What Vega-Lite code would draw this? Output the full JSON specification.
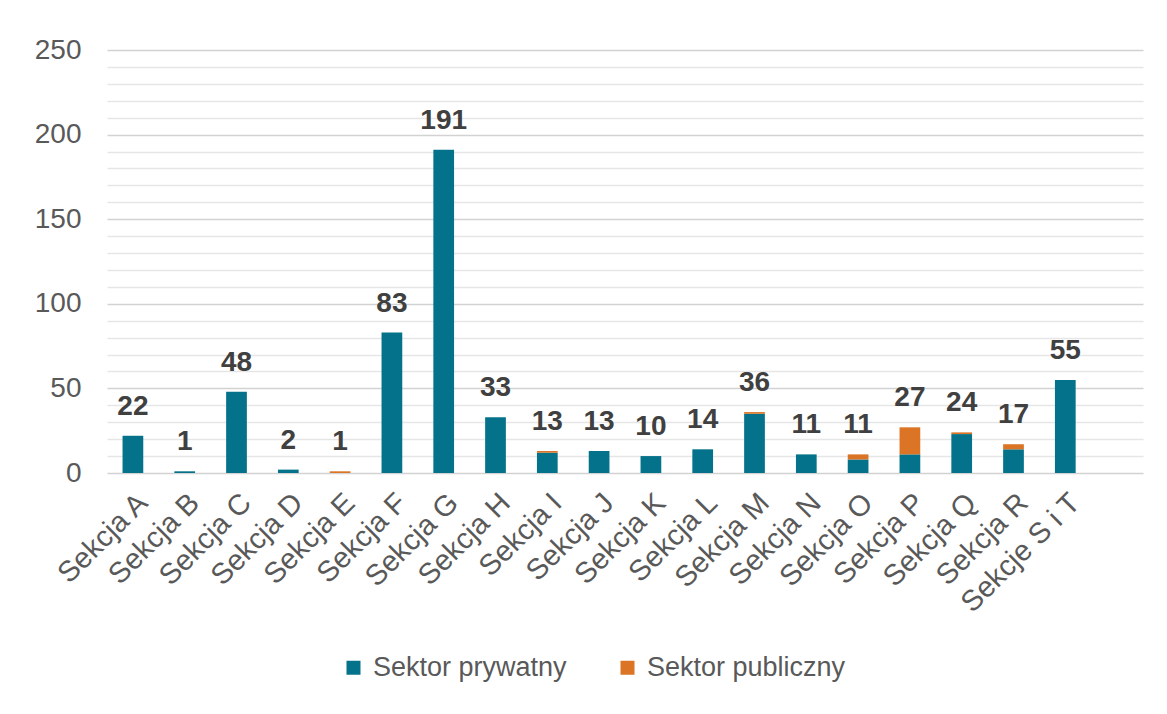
{
  "$schema": "https://vega.github.io/schema/vega-lite/v6.json",
  "width": 1036,
  "height": 423,
  "autosize": {"type": "none"},
  "padding": {"left": 107, "top": 50, "right": 24, "bottom": 241},
  "background": "white",
  "config": {
    "view": {"stroke": null},
    "font": "Liberation Sans"
  },
  "data": {
    "values": [
      {"sekcja": "Sekcja A", "sektor": "Sektor prywatny", "liczba": 22},
      {"sekcja": "Sekcja A", "sektor": "Sektor publiczny", "liczba": 0},
      {"sekcja": "Sekcja B", "sektor": "Sektor prywatny", "liczba": 1},
      {"sekcja": "Sekcja B", "sektor": "Sektor publiczny", "liczba": 0},
      {"sekcja": "Sekcja C", "sektor": "Sektor prywatny", "liczba": 48},
      {"sekcja": "Sekcja C", "sektor": "Sektor publiczny", "liczba": 0},
      {"sekcja": "Sekcja D", "sektor": "Sektor prywatny", "liczba": 2},
      {"sekcja": "Sekcja D", "sektor": "Sektor publiczny", "liczba": 0},
      {"sekcja": "Sekcja E", "sektor": "Sektor prywatny", "liczba": 0},
      {"sekcja": "Sekcja E", "sektor": "Sektor publiczny", "liczba": 1},
      {"sekcja": "Sekcja F", "sektor": "Sektor prywatny", "liczba": 83},
      {"sekcja": "Sekcja F", "sektor": "Sektor publiczny", "liczba": 0},
      {"sekcja": "Sekcja G", "sektor": "Sektor prywatny", "liczba": 191},
      {"sekcja": "Sekcja G", "sektor": "Sektor publiczny", "liczba": 0},
      {"sekcja": "Sekcja H", "sektor": "Sektor prywatny", "liczba": 33},
      {"sekcja": "Sekcja H", "sektor": "Sektor publiczny", "liczba": 0},
      {"sekcja": "Sekcja I", "sektor": "Sektor prywatny", "liczba": 12},
      {"sekcja": "Sekcja I", "sektor": "Sektor publiczny", "liczba": 1},
      {"sekcja": "Sekcja J", "sektor": "Sektor prywatny", "liczba": 13},
      {"sekcja": "Sekcja J", "sektor": "Sektor publiczny", "liczba": 0},
      {"sekcja": "Sekcja K", "sektor": "Sektor prywatny", "liczba": 10},
      {"sekcja": "Sekcja K", "sektor": "Sektor publiczny", "liczba": 0},
      {"sekcja": "Sekcja L", "sektor": "Sektor prywatny", "liczba": 14},
      {"sekcja": "Sekcja L", "sektor": "Sektor publiczny", "liczba": 0},
      {"sekcja": "Sekcja M", "sektor": "Sektor prywatny", "liczba": 35},
      {"sekcja": "Sekcja M", "sektor": "Sektor publiczny", "liczba": 1},
      {"sekcja": "Sekcja N", "sektor": "Sektor prywatny", "liczba": 11},
      {"sekcja": "Sekcja N", "sektor": "Sektor publiczny", "liczba": 0},
      {"sekcja": "Sekcja O", "sektor": "Sektor prywatny", "liczba": 8},
      {"sekcja": "Sekcja O", "sektor": "Sektor publiczny", "liczba": 3},
      {"sekcja": "Sekcja P", "sektor": "Sektor prywatny", "liczba": 11},
      {"sekcja": "Sekcja P", "sektor": "Sektor publiczny", "liczba": 16},
      {"sekcja": "Sekcja Q", "sektor": "Sektor prywatny", "liczba": 23},
      {"sekcja": "Sekcja Q", "sektor": "Sektor publiczny", "liczba": 1},
      {"sekcja": "Sekcja R", "sektor": "Sektor prywatny", "liczba": 14},
      {"sekcja": "Sekcja R", "sektor": "Sektor publiczny", "liczba": 3},
      {"sekcja": "Sekcje S i T", "sektor": "Sektor prywatny", "liczba": 55},
      {"sekcja": "Sekcje S i T", "sektor": "Sektor publiczny", "liczba": 0}
    ]
  },
  "encoding": {
    "x": {
      "field": "sekcja",
      "type": "nominal",
      "sort": null,
      "scale": {
        "domain": ["Sekcja A", "Sekcja B", "Sekcja C", "Sekcja D", "Sekcja E", "Sekcja F", "Sekcja G", "Sekcja H", "Sekcja I", "Sekcja J", "Sekcja K", "Sekcja L", "Sekcja M", "Sekcja N", "Sekcja O", "Sekcja P", "Sekcja Q", "Sekcja R", "Sekcje S i T", " "],
        "paddingInner": 0.6,
        "paddingOuter": 0.3
      },
      "axis": {
        "title": null,
        "labelAngle": -45,
        "labelFontSize": 29,
        "labelColor": "#595959",
        "labelFont": "Liberation Sans",
        "labelOverlap": false,
        "labelLimit": 0,
        "domain": false,
        "ticks": false,
        "labelPadding": 15
      }
    },
    "y": {
      "field": "liczba",
      "type": "quantitative",
      "stack": "zero",
      "scale": {"domain": [0, 250], "nice": false},
      "axis": {
        "title": null,
        "values": [0, 10, 20, 30, 40, 50, 60, 70, 80, 90, 100, 110, 120, 130, 140, 150, 160, 170, 180, 190, 200, 210, 220, 230, 240, 250],
        "labelExpr": "datum.value % 50 === 0 ? datum.label : ''",
        "labelOverlap": false,
        "labelFontSize": 28,
        "labelColor": "#595959",
        "labelPadding": 26,
        "domain": false,
        "ticks": false,
        "grid": true,
        "gridColor": {"condition": {"test": "datum.value % 50 === 0", "value": "#d2d2d2"}, "value": "#e6e6e6"},
        "gridWidth": 1.3
      }
    }
  },
  "layer": [
    {
      "mark": {"type": "bar"},
      "encoding": {
        "color": {
          "field": "sektor",
          "type": "nominal",
          "scale": {"domain": ["Sektor prywatny", "Sektor publiczny"], "range": ["#04728a", "#db7424"]},
          "legend": {
            "title": null,
            "orient": "none",
            "direction": "horizontal",
            "legendX": 233,
            "legendY": 604,
            "symbolType": "square",
            "symbolSize": 196,
            "symbolStrokeWidth": 0,
            "labelFontSize": 27,
            "labelFont": "Liberation Sans",
            "labelColor": "#595959",
            "labelLimit": 0,
            "columnPadding": 47,
            "labelOffset": 6
          }
        },
        "order": {"field": "sektor", "sort": "ascending"}
      }
    },
    {
      "transform": [
        {"aggregate": [{"op": "sum", "field": "liczba", "as": "liczba"}], "groupby": ["sekcja"]}
      ],
      "mark": {
        "type": "text",
        "baseline": "alphabetic",
        "dy": -21,
        "fontSize": 28,
        "fontWeight": "bold",
        "font": "Liberation Sans",
        "color": "#404040"
      },
      "encoding": {
        "text": {"field": "liczba", "type": "quantitative"}
      }
    }
  ]
}
